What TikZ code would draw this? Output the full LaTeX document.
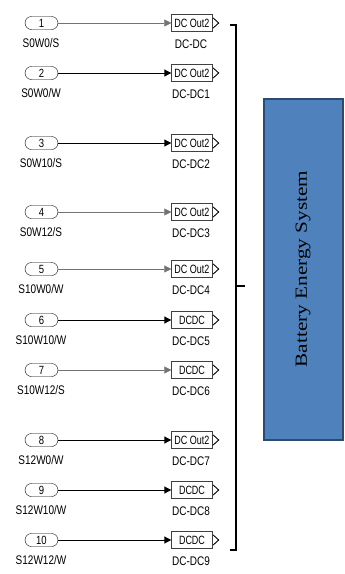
\documentclass[tikz,border=0pt]{standalone}
\usepackage{fontspec}
\setmainfont{Liberation Sans}
\newfontfamily\serifx{Liberation Serif}
\usetikzlibrary{arrows.meta,shapes.misc}
\newcommand{\vs}[1]{\scalebox{1}[1.25]{#1}}
\newcommand{\vb}[1]{\scalebox{0.9}[1.2]{#1}}
\definecolor{bfill}{HTML}{4F81BD}
\definecolor{bedge}{HTML}{2E4B6E}
\begin{document}
\begin{tikzpicture}[x=1pt,y=-1pt,
  inport/.style={draw, rounded rectangle, minimum width=33pt, minimum height=13pt, inner sep=0pt, font=\fontsize{9.5}{9.5}\selectfont},
  dcblock/.style={draw=black!75, minimum width=41pt, minimum height=17pt, inner sep=0pt, font=\fontsize{10}{10}\selectfont},
  lab/.style={inner sep=0pt, font=\fontsize{10}{10}\selectfont},
  thinsig/.style={draw=black!55, line width=0.5pt, -{Triangle[length=7pt,width=7pt]}},
  thicksig/.style={draw=black, line width=1pt, -{Triangle[length=7pt,width=7pt]}},
  chev/.style={draw=black, line width=0.9pt},
  brack/.style={draw=black, line width=1.8pt},
]
\useasboundingbox (0,0) rectangle (345,574);
\foreach \n/\y/\lab/\txt/\blab/\sty in {
  1/23/S0W0\slash S/DC Out2/DC-DC/thinsig,
  2/73/S0W0\slash W/DC Out2/DC-DC1/thicksig,
  3/143/S0W10\slash S/DC Out2/DC-DC2/thicksig,
  4/212/S0W12\slash S/DC Out2/DC-DC3/thinsig,
  5/269/S10W0\slash W/DC Out2/DC-DC4/thinsig,
  6/320/S10W10\slash W/DCDC/DC-DC5/thicksig,
  7/370/S10W12\slash S/DCDC/DC-DC6/thinsig,
  8/440/S12W0\slash W/DC Out2/DC-DC7/thicksig,
  9/490/S12W10\slash W/DCDC/DC-DC8/thicksig,
  10/540/S12W12\slash W/DCDC/DC-DC9/thicksig}{
  \node[inport] (in\n) at (41.5,\y) {\vs{\n}};
  \node[lab] (inl\n) at (41,\y+20) {\vs{\lab}};
  \node[dcblock] (dc\n) at (192,\y) {\vb{\txt}};
  \node[lab] (dcl\n) at (191,\y+21) {\vs{\blab}};
  \draw[\sty] (in\n.east) -- (dc\n.west);
  \draw[chev] ([xshift=0.5pt,yshift=-5pt]dc\n.east) -- ([xshift=6pt]dc\n.east) -- ([xshift=0.5pt,yshift=5pt]dc\n.east);
}
\coordinate (bt) at (230,25);
\coordinate (bb) at (230,550);
\coordinate (bm) at (236,286);
\coordinate (bmr) at (245,286);
\draw[brack] (bt) -- ++(6,0) |- (bb);
\draw[brack] (bm) -- (bmr);
\node[draw=bedge, line width=2pt, fill=bfill, minimum width=79pt, minimum height=341pt, inner sep=0pt] (bes) at (303,269) {};
\node[rotate=90, inner sep=0pt] (beslab) at (bes.center) {\serifx\fontsize{17}{17}\selectfont\scalebox{1.25}[1]{Battery Energy System}};
\end{tikzpicture}
\end{document}
